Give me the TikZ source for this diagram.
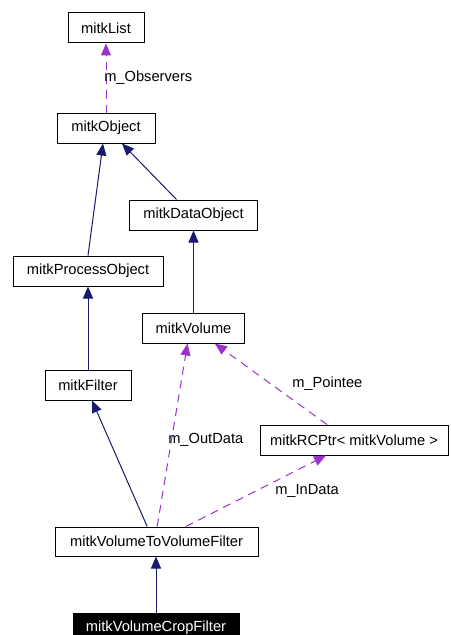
\documentclass[tikz,border=0pt]{standalone}
\usepackage{fontspec}
\setmainfont{Liberation Sans}
\usetikzlibrary{arrows.meta}
\definecolor{inherit}{HTML}{191970}
\definecolor{usage}{HTML}{9A32CD}
\begin{document}
\begin{tikzpicture}[x=0.75pt,y=-0.75pt,
  font=\fontsize{11}{13}\selectfont,
  cls/.style={draw=black,line width=0.75pt,fill=white,minimum height=22.5pt,inner sep=0pt},
  focus/.style={cls,fill=black,text=white},
  isa/.style={draw=inherit,line width=0.75pt,-{Triangle[length=9pt,width=7.5pt]}},
  uses/.style={draw=usage,line width=0.75pt,dash pattern=on 6pt off 4.5pt,-{Triangle[length=9pt,width=7.5pt,fill=usage]}},
  lbl/.style={anchor=west,inner sep=0pt}]
\useasboundingbox (0,0) rectangle (450,635);
\fill[white] (0,0) rectangle (450,635);
% classes
\node[cls,minimum width=57pt]    (list) at (106,28)    {mitkList};
\node[cls,minimum width=73.5pt]  (obj)  at (106,128)   {mitkObject};
\node[cls,minimum width=96pt]    (data) at (193.5,215) {mitkDataObject};
\node[cls,minimum width=112.5pt] (proc) at (88,271)    {mitkProcessObject};
\node[cls,minimum width=76.5pt]  (vol)  at (193.5,328) {mitkVolume};
\node[cls,minimum width=64.5pt]  (filt) at (88,385)    {mitkFilter};
\node[cls,minimum width=141pt]   (rc)   at (354,440)   {mitkRCPtr< mitkVolume >};
\node[cls,minimum width=152.25pt,minimum height=21.75pt] (v2v) at (156.5,541.5) {mitkVolumeToVolumeFilter};
\node[focus,minimum width=124.5pt] (crop) at (156,628) {mitkVolumeCropFilter};
% inheritance
\draw[isa] (proc.north) -- ([xshift=-2.25pt]obj.south);
\draw[isa] ([xshift=-12.75pt]data.north) -- ([xshift=12pt]obj.south);
\draw[isa] (vol.north) -- (data.south);
\draw[isa] (filt.north) -- (proc.south);
\draw[isa] ([xshift=-7pt]v2v.north) -- ([xshift=3pt]filt.south);
\draw[isa] (crop.north) -- (crop.north |- v2v.south);
% usage
\draw[uses] (obj.north) -- (list.south);
\draw[uses] ([xshift=0.5pt]v2v.north) -- ([xshift=-4.5pt]vol.south);
\draw[uses] ([xshift=22pt]v2v.north) -- ([xshift=-21pt]rc.south);
\draw[uses] ([xshift=-20.25pt]rc.north) -- ([xshift=16pt]vol.south);
% member labels
\node[lbl] (lobs) at (104,78)  {m\_Observers};
\node[lbl] (lout) at (168,440) {m\_OutData};
\node[lbl] (lin)  at (275,491) {m\_InData};
\node[lbl] (lptr) at (292,384) {m\_Pointee};
\end{tikzpicture}
\end{document}
